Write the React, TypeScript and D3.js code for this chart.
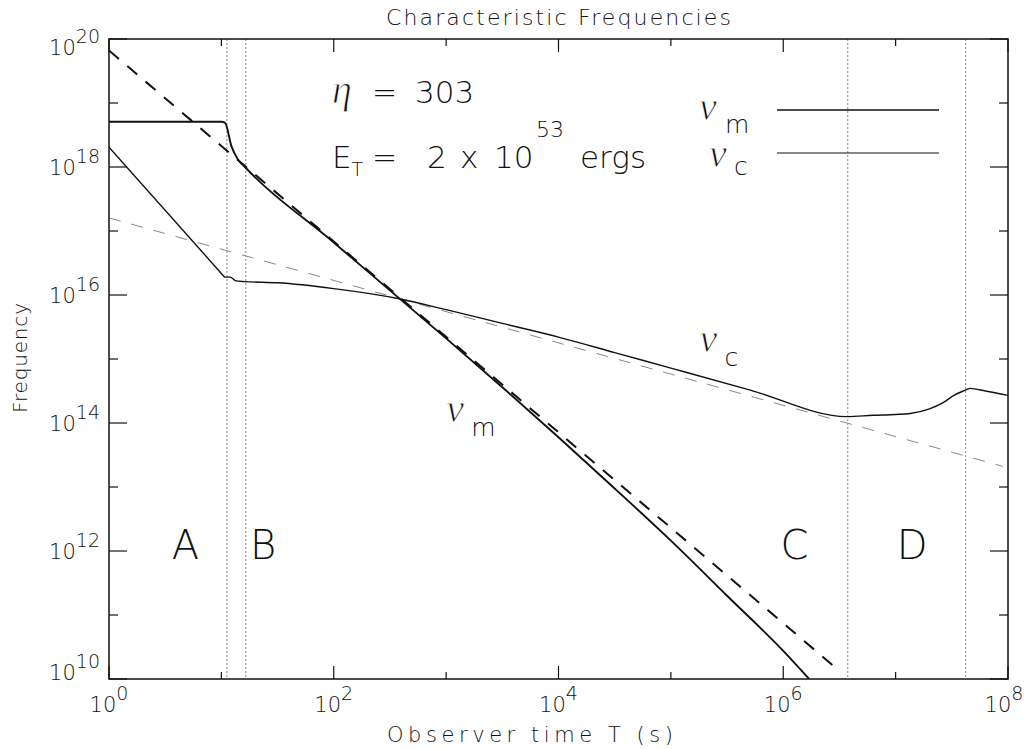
import React from "react";
import * as d3 from "d3";

// ---- data ----
// nu_m, full numerical solution
const numSolidT = [1, 10, 10.8, 12.3, 14.1, 16.2, 100, 1000, 3160, 1e4, 3.16e4, 1e5, 3.16e5, 1e6, 1.7e6];
const numSolidNu = [5.1e18, 5.1e18, 4.9e18, 2.1e18, 1.3e18, 1.0e18, 6.6e16, 2.1e15, 3.63e14, 6.0e13, 9.5e12, 1.45e12, 2.0e11, 2.75e10, 1.0e10];
// nu_c, full numerical solution
const nucSolidT = [1, 10.7, 12.0, 13.5, 16.2, 31.6, 100, 363, 1000, 3160, 1e4, 3.16e4, 1e5, 5e5, 3.7e6, 6.3e6, 1e7, 1.35e7, 2e7, 2.6e7, 3.3e7, 4e7, 4.6e7, 6.3e7, 1e8];
const nucSolidNu = [2.04e18, 1.9e16, 1.9e16, 1.66e16, 1.62e16, 1.55e16, 1.26e16, 8.9e15, 5.9e15, 3.6e15, 2.2e15, 1.26e15, 7.2e14, 3.3e14, 1.26e14, 1.32e14, 1.36e14, 1.41e14, 1.66e14, 2.04e14, 2.7e14, 3.16e14, 3.47e14, 3.16e14, 2.7e14];
// analytic power laws (dashed)
const numAsymT = [1, 2.8e6];
const numAsymNu = [6.6e19, 1.6e10];
const nucAsymT = [1, 9e7];
const nucAsymNu = [1.6e17, 2.1e13];
// regime boundaries and labels
const boundaryT = [11.2, 16.5, 3.75e6, 4.2e7];
const regionNames = ["A", "B", "C", "D"];
const regionT = [4.8, 23.5, 1.26e6, 1.4e7];
// axis decades
const xDecades = [0, 1, 2, 3, 4, 5, 6, 7, 8];
const yDecades = [10, 11, 12, 13, 14, 15, 16, 17, 18, 19, 20];
// curve label anchors
const numLabelT = 1000, numLabelNu = 1.05e14;
const nucLabelT = 1.8e5, nucLabelNu = 1.3e15;

const W = 1029, H = 749;
const L = 109, R = 1008, T = 39, B = 679;
const FONT = "'DejaVu Sans ExtraLight', 'DejaVu Sans', sans-serif";
const GREEK = "'Liberation Serif', 'DejaVu Serif', serif";
const INK = "#111";

export default function App() {
  const x = d3.scaleLog().domain([1, 1e8]).range([L, R]);
  const y = d3.scaleLog().domain([1e10, 1e20]).range([B, T]);
  const pts = (ts: number[], vs: number[]) => ts.map((t, i) => [x(t), y(vs[i])] as [number, number]);
  const straight = (ts: number[], vs: number[]) => d3.line()(pts(ts, vs)) || "";
  const smooth = (ts: number[], vs: number[]) => d3.line().curve(d3.curveMonotoneX)(pts(ts, vs)) || "";
  // nu_c: straight power-law segment first, smooth afterwards
  const nucP = pts(nucSolidT, nucSolidNu);
  const nucPath = `M${nucP[0][0]},${nucP[0][1]}L` + (d3.line().curve(d3.curveMonotoneX)(nucP.slice(1)) || "").slice(1);
  const txt = { fontFamily: FONT, fontWeight: 200, fill: INK } as any;
  const greek = { fontFamily: GREEK, fontStyle: "italic", fill: INK, stroke: "#fff", strokeWidth: 0.9 } as any;

  return (
    <svg width={W} height={H} style={{ position: "absolute", left: 0, top: 0, background: "#fff" }}>
      <defs>
        <clipPath id="plot"><rect x={L} y={T} width={R - L} height={B - T} /></clipPath>
      </defs>
      <rect x={0} y={0} width={W} height={H} fill="#fff" />
      {/* title */}
      <text x={(L + R) / 2} y={25} textAnchor="middle" fontSize={22} textLength={345} lengthAdjust="spacing" {...txt}>
        Characteristic Frequencies
      </text>

      <g clipPath="url(#plot)">
        {boundaryT.map((b, i) => (
          <line key={i} x1={x(b)} x2={x(b)} y1={T} y2={B} stroke="#777" strokeWidth={0.9} strokeDasharray="2,2" />
        ))}
        <path d={straight(nucAsymT, nucAsymNu)} fill="none" stroke="#888" strokeWidth={1} strokeDasharray="12,11" />
        <path d={straight(numAsymT, numAsymNu)} fill="none" stroke="#111" strokeWidth={2} strokeDasharray="13,11" />
        <path d={nucPath} fill="none" stroke="#111" strokeWidth={1.4} strokeLinejoin="round" />
        <path d={smooth(numSolidT, numSolidNu)} fill="none" stroke="#111" strokeWidth={1.9} />
      </g>

      {/* axes box */}
      <rect x={L} y={T} width={R - L} height={B - T} fill="none" stroke="#111" strokeWidth={1.5} />
      {xDecades.map((d) => {
        const xx = x(Math.pow(10, d));
        const len = d % 2 === 0 ? 13 : 7;
        return (
          <g key={"x" + d}>
            <line x1={xx} x2={xx} y1={B} y2={B - len} stroke="#111" strokeWidth={1.2} />
            <line x1={xx} x2={xx} y1={T} y2={T + len} stroke="#111" strokeWidth={1.2} />
            {d % 2 === 0 && (
              <text x={Math.min(xx, 1004)} y={712} textAnchor="middle" fontSize={21} {...txt}>
                10<tspan dy={-12} fontSize={19}>{d}</tspan>
              </text>
            )}
          </g>
        );
      })}
      {yDecades.map((d) => {
        const yy = y(Math.pow(10, d));
        const len = d % 2 === 0 ? 18 : 9;
        const base = Math.max(55, Math.min(680, yy + 8));
        return (
          <g key={"y" + d}>
            <line x1={L} x2={L + len} y1={yy} y2={yy} stroke="#111" strokeWidth={1.2} />
            <line x1={R} x2={R - len} y1={yy} y2={yy} stroke="#111" strokeWidth={1.2} />
            {d % 2 === 0 && (
              <text x={100} y={base} textAnchor="end" fontSize={21} {...txt}>
                10<tspan dy={-12} fontSize={19}>{d}</tspan>
              </text>
            )}
          </g>
        );
      })}

      {/* axis titles */}
      <text x={387} y={742} fontSize={21} textLength={286} lengthAdjust="spacing" {...txt}>Observer time T (s)</text>
      <text transform={`translate(27,358) rotate(-90)`} textAnchor="middle" fontSize={20} textLength={110} lengthAdjust="spacing" {...txt}>Frequency</text>

      {/* regime letters */}
      {regionNames.map((n, i) => (
        <text key={n} x={x(regionT[i])} y={559} textAnchor="middle" fontSize={40} {...txt}>{n}</text>
      ))}

      {/* parameters */}
      <text x={332} y={103} fontSize={40} {...greek}>η</text>
      <text x={372} y={103} fontSize={30} {...txt}>=</text>
      <text x={415} y={103} fontSize={31} {...txt}>303</text>
      <text x={332} y={168} fontSize={31} {...txt}>E<tspan fontSize={19} dy={8}>T</tspan></text>
      <text x={372} y={168} fontSize={30} {...txt}>=</text>
      <text x={427} y={168} fontSize={31} {...txt}>2</text>
      <text x={460} y={168} fontSize={31} {...txt}>x</text>
      <text x={494} y={168} fontSize={31} {...txt}>10</text>
      <text x={536} y={137} fontSize={22} {...txt}>53</text>
      <text x={580} y={168} fontSize={31} {...txt}>ergs</text>

      {/* legend */}
      <text x={699} y={120} fontSize={40} {...greek}>ν</text>
      <text x={725} y={133} fontSize={25} {...txt}>m</text>
      <line x1={777} x2={939} y1={110} y2={110} stroke="#111" strokeWidth={1.4} />
      <text x={709} y={167} fontSize={40} {...greek}>ν</text>
      <text x={734} y={175} fontSize={25} {...txt}>c</text>
      <line x1={777} x2={939} y1={153} y2={153} stroke="#111" strokeWidth={1.1} />

      {/* curve labels */}
      <text x={x(numLabelT)} y={y(numLabelNu)} fontSize={40} {...greek}>ν</text>
      <text x={x(numLabelT) + 25} y={y(numLabelNu) + 14} fontSize={25} {...txt}>m</text>
      <text x={x(nucLabelT)} y={y(nucLabelNu)} fontSize={40} {...greek}>ν</text>
      <text x={x(nucLabelT) + 25} y={y(nucLabelNu) + 14} fontSize={25} {...txt}>c</text>
    </svg>
  );
}
